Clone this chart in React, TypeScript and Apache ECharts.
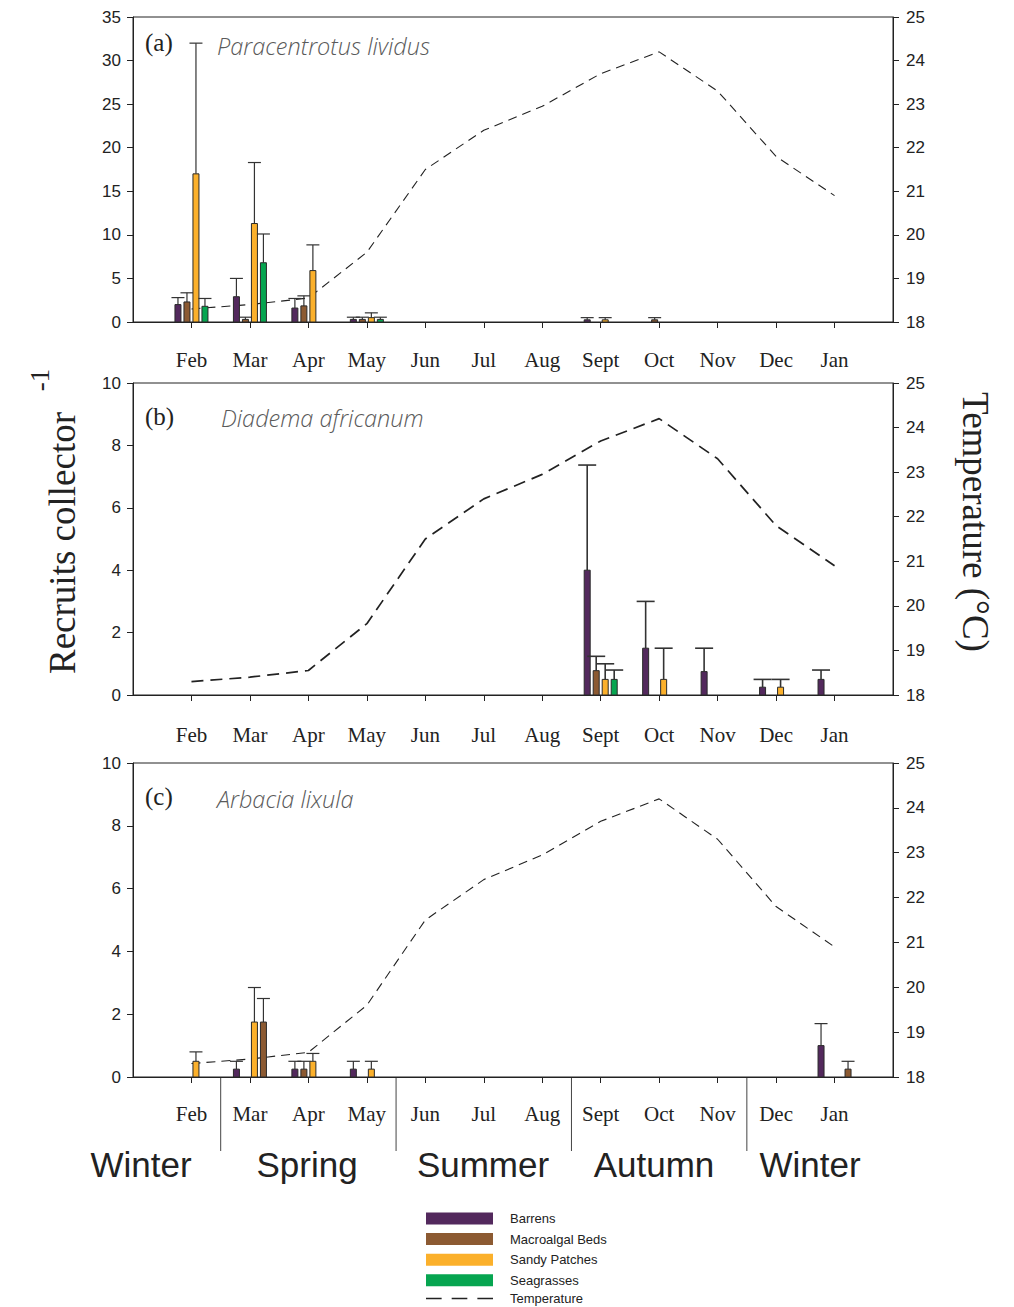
import React, { useEffect, useRef } from 'react';
import * as echarts from 'echarts';

const N = null;
const months = ['Feb', 'Mar', 'Apr', 'May', 'Jun', 'Jul', 'Aug', 'Sept', 'Oct', 'Nov', 'Dec', 'Jan'];
const monthTicks = [1, 2, 3, 4, 5, 6, 7, 8, 9, 10, 11, 12];
const temperature = [18.3, 18.4, 18.55, 19.6, 21.5, 22.4, 22.95, 23.7, 24.2, 23.3, 21.8, 20.9];

// Panel (a) Paracentrotus lividus
const aBarrens = [2.0, 2.9, 1.6, 0.3, N, N, N, 0.25, N, N, N, N];
const aBarrensErr = [0.8, 2.1, 1.1, 0.25, N, N, N, 0.25, N, N, N, N];
const aMacro = [2.3, 0.3, 1.85, 0.3, N, N, N, N, 0.25, N, N, N];
const aMacroErr = [1.05, 0.25, 1.15, 0.25, N, N, N, N, 0.25, N, N, N];
const aSandy = [17.0, 11.3, 5.9, 0.5, N, N, N, 0.25, N, N, N, N];
const aSandyErr = [15.0, 7.0, 2.95, 0.55, N, N, N, 0.25, N, N, N, N];
const aSeagrass = [1.8, 6.8, N, 0.3, N, N, N, N, N, N, N, N];
const aSeagrassErr = [0.9, 3.3, N, 0.25, N, N, N, N, N, N, N, N];

// Panel (b) Diadema africanum
const bBarrens = [N, N, N, N, N, N, N, 4.0, 1.5, 0.75, 0.25, 0.5];
const bBarrensErr = [N, N, N, N, N, N, N, 3.37, 1.5, 0.75, 0.25, 0.3];
const bMacro = [N, N, N, N, N, N, N, 0.78, N, N, N, N];
const bMacroErr = [N, N, N, N, N, N, N, 0.46, N, N, N, N];
const bSandy = [N, N, N, N, N, N, N, 0.5, 0.5, N, 0.25, N];
const bSandyErr = [N, N, N, N, N, N, N, 0.5, 1.0, N, 0.25, N];
const bSeagrass = [N, N, N, N, N, N, N, 0.5, N, N, N, N];
const bSeagrassErr = [N, N, N, N, N, N, N, 0.3, N, N, N, N];

// Panel (c) Arbacia lixula
const cBarrens = [N, 0.25, 0.25, 0.25, N, N, N, N, N, N, N, 1.0];
const cBarrensErr = [N, 0.25, 0.25, 0.25, N, N, N, N, N, N, N, 0.7];
const cMacro = [N, N, 0.25, N, N, N, N, N, N, N, N, N];
const cMacroErr = [N, N, 0.25, N, N, N, N, N, N, N, N, N];
const cSandy = [0.5, 1.75, 0.5, 0.25, N, N, N, N, N, N, N, N];
const cSandyErr = [0.3, 1.1, 0.25, 0.25, N, N, N, N, N, N, N, N];
const cSeagrass = [N, 1.75, N, N, N, N, N, N, N, N, N, 0.25];
const cSeagrassErr = [N, 0.75, N, N, N, N, N, N, N, N, N, 0.25];

const seriesNames = ['Barrens', 'Macroalgal Beds', 'Sandy Patches', 'Seagrasses'];
const COLORS = ['#53295d', '#8c5a32', '#fbb02b', '#06a550'];
const SLOT_OFFSETS = [-13.5, -4.5, 4.5, 13.5];

const panels = [
  {
    top: 17, height: 305, yMax: 35, yInterval: 5, cap: 6.5, errW: 1.2, dash: [9, 6], lineW: 1.1, labelMargin: 27,
    tag: '(a)', species: 'Paracentrotus lividus', tagY: 42, speciesX: 217, speciesY: 46,
    data: [[aBarrens, aBarrensErr], [aMacro, aMacroErr], [aSandy, aSandyErr], [aSeagrass, aSeagrassErr]],
    colors: COLORS,
  },
  {
    top: 383, height: 312, yMax: 10, yInterval: 2, cap: 9, errW: 1.6, dash: [12, 7], lineW: 1.7, labelMargin: 29,
    tag: '(b)', species: 'Diadema africanum', tagY: 416, speciesX: 221, speciesY: 418,
    data: [[bBarrens, bBarrensErr], [bMacro, bMacroErr], [bSandy, bSandyErr], [bSeagrass, bSeagrassErr]],
    colors: COLORS,
  },
  {
    top: 763, height: 314, yMax: 10, yInterval: 2, cap: 6.5, errW: 1.2, dash: [9, 6], lineW: 1.1, labelMargin: 26,
    tag: '(c)', species: 'Arbacia lixula', tagY: 796, speciesX: 217, speciesY: 799,
    data: [[cBarrens, cBarrensErr], [cMacro, cMacroErr], [cSandy, cSandyErr], [cSeagrass, cSeagrassErr]],
    colors: [COLORS[0], COLORS[1], COLORS[2], COLORS[1]],
  },
];

const seasons = [
  { name: 'Winter', x: 141 },
  { name: 'Spring', x: 307 },
  { name: 'Summer', x: 483 },
  { name: 'Autumn', x: 654 },
  { name: 'Winter', x: 810 },
];
const seasonBreaks = [1.5, 4.5, 7.5, 10.5];

const AXIS_COLOR = '#222';

function buildOption() {
  const grid: any[] = [];
  const xAxis: any[] = [];
  const yAxis: any[] = [];
  const series: any[] = [];
  const graphic: any[] = [];

  panels.forEach((p, i) => {
    grid.push({
      left: 133, right: 121, top: p.top, height: p.height,
      show: true, borderColor: AXIS_COLOR, borderWidth: 1, backgroundColor: 'transparent',
    });
    xAxis.push({
      type: 'value', gridIndex: i, min: 0, max: 13, interval: 1,
      axisLine: { show: true, onZero: false, lineStyle: { color: AXIS_COLOR, width: 1 } },
      axisTick: { show: true, customValues: monthTicks, length: 6, inside: false, lineStyle: { color: AXIS_COLOR } },
      axisLabel: {
        customValues: monthTicks, formatter: (v: number) => months[v - 1] || '',
        margin: p.labelMargin, fontFamily: 'Liberation Serif', fontSize: 21, color: AXIS_COLOR,
      },
      splitLine: { show: false },
    });
    yAxis.push({
      type: 'value', gridIndex: i, position: 'left', min: 0, max: p.yMax, interval: p.yInterval,
      axisLine: { show: true, lineStyle: { color: AXIS_COLOR, width: 1 } },
      axisTick: { show: true, length: 6, lineStyle: { color: AXIS_COLOR } },
      axisLabel: { margin: 12, fontFamily: 'Liberation Sans', fontSize: 17, color: AXIS_COLOR },
      splitLine: { show: false },
    });
    yAxis.push({
      type: 'value', gridIndex: i, position: 'right', min: 18, max: 25, interval: 1,
      axisLine: { show: true, lineStyle: { color: AXIS_COLOR, width: 1 } },
      axisTick: { show: true, length: 6, lineStyle: { color: AXIS_COLOR } },
      axisLabel: { margin: 13, fontFamily: 'Liberation Sans', fontSize: 17, color: AXIS_COLOR },
      splitLine: { show: false },
    });

    series.push({
      type: 'line', name: 'Temperature', xAxisIndex: i, yAxisIndex: i * 2 + 1,
      data: temperature.map((t, k) => [k + 1, t]),
      symbol: 'none', silent: true, z: 1,
      itemStyle: { color: '#222' },
      lineStyle: { color: '#222', width: p.lineW, type: p.dash },
    });

    p.data.forEach(([vals, errs], slot) => {
      const color = p.colors[slot];
      const offset = SLOT_OFFSETS[slot];
      series.push({
        type: 'custom', name: seriesNames[slot], xAxisIndex: i, yAxisIndex: i * 2, z: 3,
        itemStyle: { color },
        encode: { x: 0, y: 1 },
        data: (vals as any[]).map((v, k) => (v == null ? null : [k + 1, v, (errs as any[])[k]])).filter(Boolean),
        renderItem: (params: any, api: any) => {
          const x = api.value(0);
          const v = api.value(1);
          const e = api.value(2);
          const base = api.coord([x, 0]);
          const top = api.coord([x, v]);
          const et = api.coord([x, v + e]);
          const cx = base[0] + offset;
          const es = { stroke: '#333', lineWidth: p.errW };
          return {
            type: 'group',
            children: [
              { type: 'line', shape: { x1: cx, y1: top[1], x2: cx, y2: et[1] }, style: es },
              { type: 'line', shape: { x1: cx - p.cap, y1: et[1], x2: cx + p.cap, y2: et[1] }, style: es },
              {
                type: 'rect',
                shape: { x: cx - 3, y: top[1], width: 6, height: base[1] - top[1] },
                style: { fill: color, stroke: '#2a2a2a', lineWidth: 1 },
              },
            ],
          };
        },
      });
    });

    graphic.push({
      type: 'text', x: 145, y: p.tagY,
      style: { text: p.tag, fontFamily: 'Liberation Serif', fontSize: 25, fill: '#222', verticalAlign: 'middle' },
    });
    graphic.push({
      type: 'text', x: p.speciesX, y: p.speciesY,
      style: {
        text: p.species, fontFamily: 'Open Sans', fontStyle: 'italic', fontWeight: 300,
        fontSize: 23.5, fill: '#5a5a5a', verticalAlign: 'middle',
      },
    });
  });

  // Y axis titles
  graphic.push({
    type: 'text', x: 62, y: 543, rotation: Math.PI / 2,
    style: {
      text: 'Recruits collector', fontFamily: 'Liberation Serif', fontSize: 37, fill: '#222',
      align: 'center', verticalAlign: 'middle',
    },
  });
  graphic.push({
    type: 'text', x: 40, y: 380, rotation: Math.PI / 2,
    style: {
      text: '-1', fontFamily: 'Liberation Serif', fontSize: 27, fill: '#222',
      align: 'center', verticalAlign: 'middle',
    },
  });
  graphic.push({
    type: 'text', x: 975, y: 522, rotation: -Math.PI / 2,
    style: {
      text: 'Temperature (°C)', fontFamily: 'Liberation Serif', fontSize: 37, fill: '#222',
      align: 'center', verticalAlign: 'middle',
    },
  });

  seasons.forEach((s) => {
    graphic.push({
      type: 'text', x: s.x, y: 1164,
      style: {
        text: s.name, fontFamily: 'Liberation Sans', fontSize: 35, fill: '#222',
        align: 'center', verticalAlign: 'middle',
      },
    });
  });

  const legendBase = {
    orient: 'vertical', left: 426, itemWidth: 67, itemHeight: 12, itemGap: 7.6,
    padding: 0,
    selectedMode: false,
    textStyle: { fontFamily: 'Liberation Sans', fontSize: 13, lineHeight: 12, color: '#222', padding: [0, 0, 0, 12] },
  };

  return {
    animation: false,
    backgroundColor: '#fff',
    grid, xAxis, yAxis, series, graphic,
    legend: [
      {
        ...legendBase,
        top: 1212,
        data: [
          { name: 'Barrens', icon: 'rect' },
          { name: 'Macroalgal Beds', icon: 'rect' },
          { name: 'Sandy Patches', icon: 'rect' },
          { name: 'Seagrasses', icon: 'rect' },
        ],
      },
      {
        ...legendBase,
        top: 1292,
        data: [
          {
            name: 'Temperature',
            icon: 'path://M0,0h14v1.3h-14z M23,0h14v1.3h-14z M46,0h14v1.3h-14z',
            itemStyle: { color: '#222' },
          },
        ],
      },
    ],
  };
}

export default function App() {
  const ref = useRef<HTMLDivElement>(null);
  useEffect(() => {
    if (!ref.current) return;
    const chart = echarts.init(ref.current, null, { renderer: 'svg' });
    const option = buildOption();
    chart.setOption(option);
    // season divider lines below the bottom panel's axis, placed via the axis scale
    const bottom = panels[2].top + panels[2].height;
    const dividers = seasonBreaks.map((b) => {
      const x = chart.convertToPixel({ xAxisIndex: 2 }, b) as number;
      return {
        type: 'line',
        shape: { x1: x, y1: bottom, x2: x, y2: bottom + 74 },
        style: { stroke: '#444', lineWidth: 1 },
      };
    });
    chart.setOption({ graphic: [...(option.graphic as any[]), ...dividers] });
    return () => chart.dispose();
  }, []);
  return (
    <div
      ref={ref}
      style={{ position: 'absolute', left: 0, top: 0, width: 1014, height: 1307 }}
    />
  );
}
